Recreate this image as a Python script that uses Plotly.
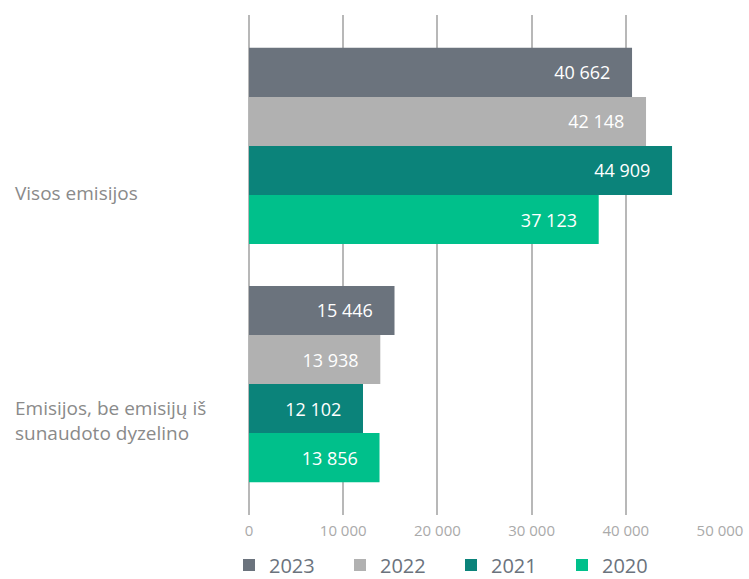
import plotly.graph_objects as go

categories = ["Visos emisijos", "Emisijos, be emisijų iš<br>sunaudoto dyzelino"]
years = ["2023", "2022", "2021", "2020"]
values = {
    "2023": [40662, 15446],
    "2022": [42148, 13938],
    "2021": [44909, 12102],
    "2020": [37123, 13856],
}
colors = {"2023": "#6b737d", "2022": "#b1b1b1", "2021": "#0b837a", "2020": "#00c08b"}
tick_vals = [0, 10000, 20000, 30000, 40000, 50000]
label_yshift = [-47, -36]

FONT = "Open Sans"
PAD = "\u00a0" * 4

def fmt(v):
    return f"{v:,}".replace(",", " ")

fig = go.Figure()
for y in years:
    fig.add_trace(go.Bar(
        y=categories, x=values[y], name=y, orientation="h",
        marker=dict(color=colors[y], line=dict(width=0)),
        text=[fmt(v) + PAD for v in values[y]], textposition="inside",
        insidetextanchor="end",
        textfont=dict(color="white", size=18, family=FONT),
        cliponaxis=False,
    ))

for c, ys in zip(categories, label_yshift):
    fig.add_annotation(x=0, xref="paper", xanchor="left", y=c, yref="y",
                       xshift=-236, yshift=ys, text=c, showarrow=False, align="left",
                       font=dict(size=19, color="#8a8a8a", family=FONT))

fig.update_layout(
    width=749, height=579,
    margin=dict(l=249, r=29, t=15, b=64, autoexpand=False),
    plot_bgcolor="white", paper_bgcolor="white",
    barmode="group", bargap=0.176, bargroupgap=0,
    separators=". ",
    showlegend=True,
    legend=dict(orientation="h", x=229 / 749, xref="container", xanchor="left",
                y=(579 - 565) / 579, yref="container", yanchor="middle",
                font=dict(size=20, color="#6b737d", family=FONT),
                entrywidth=66, entrywidthmode="pixels",
                traceorder="normal", itemsizing="constant"),
    font=dict(family=FONT),
)
fig.update_xaxes(range=[0, 50000], tickvals=tick_vals, tickformat=",d",
                 automargin=False, ticklabelstandoff=5,
                 showgrid=True, gridcolor="#b8b8b8", gridwidth=2,
                 zeroline=True, zerolinecolor="#b8b8b8", zerolinewidth=2,
                 showline=False, ticks="",
                 tickfont=dict(size=15, color="#aaaaaa", family=FONT))
fig.update_yaxes(autorange=False, range=[1.55, -0.55], showticklabels=False,
                 automargin=False,
                 showgrid=False, zeroline=False, showline=False, ticks="")

fig.write_html("out.html", config={"displayModeBar": False},
               post_script="document.body.style.margin='0';document.body.style.overflow='hidden';")
